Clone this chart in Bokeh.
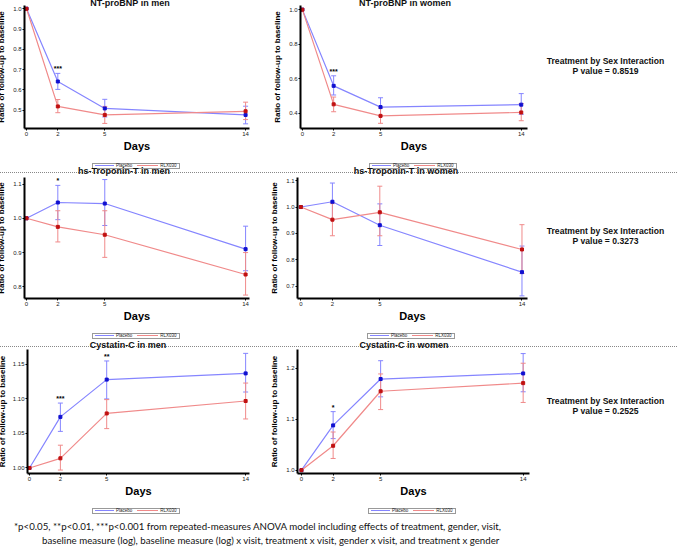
from bokeh.plotting import figure
from bokeh.layouts import column, row
from bokeh.models import (ColumnDataSource, Whisker, TeeHead, Range1d, FixedTicker,
                          NumeralTickFormatter, Div)
from bokeh.embed import file_html
from bokeh.resources import INLINE
from bokeh.core.properties import value

# ---------------- data ----------------
days = [0, 2, 5, 14]
series_names = ["Placebo", "RLX030"]
pvalues = ["0.8519", "0.3273", "0.2525"]

# NT-proBNP in men
ntm_pla = [1.000, 0.641, 0.508, 0.476]
ntm_pla_lo = [1.000, 0.602, 0.466, 0.432]
ntm_pla_hi = [1.000, 0.681, 0.553, 0.519]
ntm_rlx = [1.000, 0.518, 0.476, 0.494]
ntm_rlx_lo = [1.000, 0.487, 0.434, 0.453]
ntm_rlx_hi = [1.000, 0.552, 0.518, 0.539]
ntm_stars = ["", "***", "", ""]
ntm_yticks = [0.5, 0.6, 0.7, 0.8, 0.9, 1.0]

# NT-proBNP in women
ntw_pla = [1.000, 0.559, 0.436, 0.450]
ntw_pla_lo = [1.000, 0.506, 0.385, 0.394]
ntw_pla_hi = [1.000, 0.617, 0.490, 0.514]
ntw_rlx = [1.000, 0.452, 0.385, 0.405]
ntw_rlx_lo = [1.000, 0.409, 0.342, 0.357]
ntw_rlx_hi = [1.000, 0.494, 0.430, 0.456]
ntw_stars = ["", "***", "", ""]
ntw_yticks = [0.4, 0.6, 0.8, 1.0]

# hs-Troponin-T in men
tnm_pla = [1.000, 1.046, 1.043, 0.910]
tnm_pla_lo = [1.000, 0.996, 0.979, 0.847]
tnm_pla_hi = [1.000, 1.096, 1.113, 0.977]
tnm_rlx = [1.000, 0.975, 0.952, 0.836]
tnm_rlx_lo = [1.000, 0.931, 0.886, 0.776]
tnm_rlx_hi = [1.000, 1.022, 1.022, 0.900]
tnm_stars = ["", "*", "", ""]
tnm_yticks = [0.8, 0.9, 1.0, 1.1]

# hs-Troponin-T in women
tnw_pla = [1.000, 1.020, 0.931, 0.753]
tnw_pla_lo = [1.000, 0.952, 0.854, 0.663]
tnw_pla_hi = [1.000, 1.091, 1.012, 0.852]
tnw_rlx = [1.000, 0.952, 0.980, 0.839]
tnw_rlx_lo = [1.000, 0.891, 0.891, 0.748]
tnw_rlx_hi = [1.000, 1.013, 1.079, 0.933]
tnw_stars = ["", "", "", ""]
tnw_yticks = [0.7, 0.8, 0.9, 1.0, 1.1]

# Cystatin-C in men
cym_pla = [1.000, 1.074, 1.128, 1.137]
cym_pla_lo = [1.000, 1.053, 1.100, 1.110]
cym_pla_hi = [1.000, 1.094, 1.155, 1.166]
cym_rlx = [1.000, 1.014, 1.079, 1.097]
cym_rlx_lo = [1.000, 0.997, 1.057, 1.071]
cym_rlx_hi = [1.000, 1.033, 1.099, 1.123]
cym_stars = ["", "***", "**", ""]
cym_yticks = [1.00, 1.05, 1.10, 1.15]

# Cystatin-C in women
cyw_pla = [1.000, 1.088, 1.179, 1.190]
cyw_pla_lo = [1.000, 1.062, 1.144, 1.154]
cyw_pla_hi = [1.000, 1.115, 1.215, 1.229]
cyw_rlx = [1.000, 1.048, 1.155, 1.171]
cyw_rlx_lo = [1.000, 1.023, 1.119, 1.133]
cyw_rlx_hi = [1.000, 1.075, 1.189, 1.210]
cyw_stars = ["", "*", "", ""]
cyw_yticks = [1.0, 1.1, 1.2]

# ---------------- style ----------------
BLUE_LINE = "#8585ff"
BLUE_MARK = "#1010d0"
RED_LINE = "#f08a8a"
RED_MARK = "#c01010"
FONT = "Liberation Sans"


def title_div(title, height, center, pad):
    html = (f"<div style='font-family:\"Liberation Sans\",Arial,sans-serif;font-weight:bold;"
            f"font-size:9px;line-height:9px;text-align:center;color:#111;white-space:nowrap;"
            f"padding-top:{pad}px;width:{2 * center}px'>{title}</div>")
    return Div(text=html, width=270, height=height, margin=0)


def legend_div(height, left, top):
    html = (f"<div style='margin-left:{left}px;margin-top:{top}px;display:flex;width:max-content;"
            "align-items:center;border:1px solid #999;height:6px;padding:0 2px;"
            "font-family:\"Liberation Sans\",Arial,sans-serif;font-size:4.5px;line-height:6px;"
            "color:#222;white-space:nowrap;background:#fff'>"
            f"<span style='display:block;width:19px;height:0;border-top:1px solid {BLUE_LINE};"
            f"margin-right:2px'></span><span>{series_names[0]}</span>"
            f"<span style='display:block;width:21px;height:0;border-top:1px solid {RED_LINE};"
            f"margin:0 2px 0 5px'></span><span>{series_names[1]}</span></div>")
    return Div(text=html, width=270, height=height, margin=0)


def make_panel(title, tcenter, tdiv_h, tpad, xr, yr, yticks, yfmt,
               pla, pla_lo, pla_hi, rlx, rlx_lo, rlx_hi, stars,
               height, left, right, top, bottom, ylab_standoff, leg_h, leg_x, leg_top):
    p = figure(width=270, height=height, x_range=Range1d(*xr), y_range=Range1d(*yr),
               output_backend="svg", toolbar_location=None,
               min_border_left=left, min_border_right=right,
               min_border_top=top, min_border_bottom=bottom, margin=0)
    p.grid.visible = False
    p.outline_line_color = None
    p.border_fill_color = None
    p.background_fill_color = None

    p.xaxis.ticker = FixedTicker(ticks=days)
    p.yaxis.ticker = FixedTicker(ticks=yticks)
    p.yaxis.formatter = NumeralTickFormatter(format=yfmt)
    for ax in (p.xaxis[0], p.yaxis[0]):
        ax.axis_line_width = 2
        ax.axis_line_color = "black"
        ax.major_tick_out = 2
        ax.major_tick_in = 0
        ax.minor_tick_out = 0
        ax.minor_tick_in = 0
        ax.major_tick_line_color = "black"
        ax.major_label_text_font = FONT
        ax.major_label_text_font_size = "6px"
        ax.major_label_text_color = "#222222"
        ax.major_label_standoff = 1
        ax.axis_label_text_font = FONT
        ax.axis_label_text_font_style = "bold"
        ax.axis_label_text_color = "black"
    p.xaxis.axis_label = "Days"
    p.xaxis.axis_label_text_font_size = "11px"
    p.xaxis.axis_label_standoff = 1
    p.yaxis.axis_label = "Ratio of follow-up to baseline"
    p.yaxis.axis_label_text_font_size = "8px"
    p.yaxis.axis_label_standoff = ylab_standoff

    for vals, lo, hi, lc, mc in ((pla, pla_lo, pla_hi, BLUE_LINE, BLUE_MARK),
                                 (rlx, rlx_lo, rlx_hi, RED_LINE, RED_MARK)):
        src = ColumnDataSource(dict(x=days, y=vals))
        wsrc = ColumnDataSource(dict(x=days[1:], lo=lo[1:], hi=hi[1:]))
        w = Whisker(source=wsrc, base="x", upper="hi", lower="lo",
                    line_color=lc, line_width=1,
                    upper_head=TeeHead(size=5, line_color=lc, line_width=1),
                    lower_head=TeeHead(size=5, line_color=lc, line_width=1))
        p.add_layout(w)
        p.line("x", "y", source=src, line_color=lc, line_width=1.2)
        p.scatter("x", "y", source=src, marker="square", size=3,
                  fill_color=mc, line_color=mc)

    p.text(x=days, y=pla_hi, text=stars, text_font=value(FONT), text_font_size="7px",
           text_font_style="bold", text_align="center", text_baseline="bottom",
           y_offset=-1, text_color="black")

    return column(title_div(title, tdiv_h, tcenter, tpad), p,
                  legend_div(leg_h, leg_x, leg_top), margin=0)


def note_div(pval, height, pad):
    html = ("<div style='font-family:\"Liberation Sans\",Arial,sans-serif;font-weight:bold;"
            "font-size:8.6px;line-height:10px;text-align:center;color:#111;white-space:nowrap;"
            f"padding-top:{pad}px;width:143px'>Treatment by Sex Interaction<br>"
            f"P value = {pval}</div>")
    return Div(text=html, width=143, height=height, margin=0)


def sep_div():
    return Div(text="<div style='border-top:1px dotted #888;width:683px;height:0'></div>",
               width=683, height=1, margin=0)


# row 1 (total 167): title 8 + fig 152 + legend 7
p1 = make_panel("NT-proBNP in men", 136, 8, 1, (-0.13, 14.25), (0.409, 1.016), ntm_yticks, "0.0",
                ntm_pla, ntm_pla_lo, ntm_pla_hi, ntm_rlx, ntm_rlx_lo, ntm_rlx_hi, ntm_stars,
                152, 29, 15, 3, 25, 4, 7, 98, 0)
p2 = make_panel("NT-proBNP in women", 141, 8, 1, (-0.12, 14.4), (0.312, 1.024), ntw_yticks, "0.0",
                ntw_pla, ntw_pla_lo, ntw_pla_hi, ntw_rlx, ntw_rlx_lo, ntw_rlx_hi, ntw_stars,
                152, 36, 7, 3, 25, 4, 7, 105, 0)
# row 2 (total 173): title 12 + fig 150 + legend 11
p3 = make_panel("hs-Troponin-T in men", 130, 12, 3, (-0.13, 14.25), (0.766, 1.119), tnm_yticks, "0.0",
                tnm_pla, tnm_pla_lo, tnm_pla_hi, tnm_rlx, tnm_rlx_lo, tnm_rlx_hi, tnm_stars,
                150, 29, 15, 3, 25, 4, 11, 98, 0)
p4 = make_panel("hs-Troponin-T in women", 142, 12, 3, (-0.21, 14.35), (0.653, 1.112), tnw_yticks, "0.0",
                tnw_pla, tnw_pla_lo, tnw_pla_hi, tnw_rlx, tnw_rlx_lo, tnw_rlx_hi, tnw_stars,
                150, 33, 7, 3, 25, 4, 11, 103, 0)
# row 3 (total 171): title 10 + fig 153 + legend 8
p5 = make_panel("Cystatin-C in men", 134, 10, 3, (-0.13, 14.25), (0.992, 1.1716), cym_yticks, "0.00",
                cym_pla, cym_pla_lo, cym_pla_hi, cym_rlx, cym_rlx_lo, cym_rlx_hi, cym_stars,
                153, 29, 15, 3, 25, 3, 8, 98, 0)
p6 = make_panel("Cystatin-C in women", 140, 10, 3, (-0.25, 14.4), (0.9935, 1.237), cyw_yticks, "0.0",
                cyw_pla, cyw_pla_lo, cyw_pla_hi, cyw_rlx, cyw_rlx_lo, cyw_rlx_hi, cyw_stars,
                153, 33, 5, 3, 25, 4, 8, 104, 0)

foot_html = ("<div style='font-family:Lato,\"Open Sans\",sans-serif;font-size:9.7px;"
             "line-height:14px;color:#111;padding-top:12px'>"
             "<div style='margin-left:20px;white-space:nowrap'>*p&lt;0.05, **p&lt;0.01, ***p&lt;0.001 from "
             "repeated-measures ANOVA model including effects of treatment, gender, visit,</div>"
             "<div style='margin-left:48px;white-space:nowrap'>baseline measure (log), baseline measure (log) x visit, "
             "treatment x visit, gender x visit, and treatment x gender</div></div>")
foot = Div(text=foot_html, width=683, height=37, margin=0)

layout = column(
    row(p1, p2, note_div(pvalues[0], 167, 62), margin=0),
    sep_div(),
    row(p3, p4, note_div(pvalues[1], 173, 64), margin=0),
    sep_div(),
    row(p5, p6, note_div(pvalues[2], 171, 60), margin=0),
    foot,
    margin=0,
    styles={"margin": "-6px -8px -8px -6px"},
)

open("out.html", "w").write(file_html(layout, INLINE))
